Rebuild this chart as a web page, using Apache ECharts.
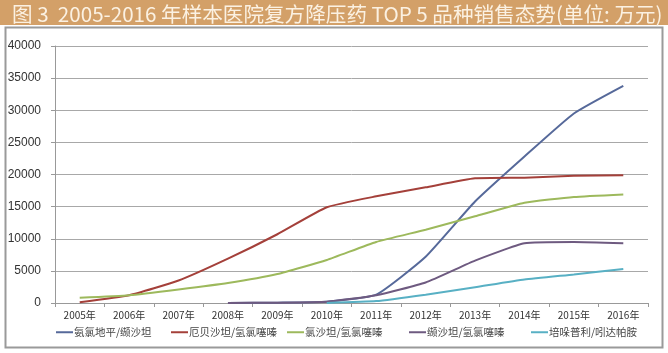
<!DOCTYPE html>
<html><head><meta charset="utf-8">
<script src="https://cdn.jsdelivr.net/npm/echarts@6/dist/echarts.min.js"></script>
<style>html,body{margin:0;padding:0;background:#fff}#c{width:668px;height:353px}</style>
</head><body><div id="c"></div>
<script>
const titleText = '图 3  2005-2016 年样本医院复方降压药 TOP 5 品种销售态势(单位: 万元)';
const years = ['2005年','2006年','2007年','2008年','2009年','2010年','2011年','2012年','2013年','2014年','2015年','2016年'];
const seriesNames = ['氨氯地平/缬沙坦','厄贝沙坦/氢氯噻嗪','氯沙坦/氢氯噻嗪','缬沙坦/氢氯噻嗪','培哚普利/吲达帕胺'];
const amlodipineValsartan = [null,null,null,0,50,200,1300,7200,15800,22800,29500,33800];
const irbesartanHctz = [100,1200,3500,6900,10700,14900,16600,18000,19400,19500,19800,19900];
const losartanHctz = [800,1200,2100,3100,4500,6700,9500,11400,13500,15600,16500,16900];
const valsartanHctz = [null,null,null,0,50,200,1200,3200,6600,9300,9500,9300];
const perindoprilIndapamide = [null,null,null,null,null,0,300,1300,2450,3650,4450,5300];
const yTicks = [0,5000,10000,15000,20000,25000,30000,35000,40000];

const colors = ['#56699A','#A4403A','#9DB95C','#6E5A80','#58B0C4'];
const dataArr = [amlodipineValsartan, irbesartanHctz, losartanHctz, valsartanHctz, perindoprilIndapamide];
const legendLefts = [56,171,287,409,531];
const cjk = '"Noto Sans CJK SC", sans-serif';

const chart = echarts.init(document.getElementById('c'));
chart.setOption({
  animation:false,
  color: colors,
  graphic:[
    {type:'rect', shape:{x:0,y:0,width:668,height:25}, style:{fill:'#D3A068'}, z:-1},
    {type:'rect', shape:{x:5.5,y:27.5,width:657,height:320}, style:{fill:'#fff',stroke:'#9a9a9a',lineWidth:2}, z:-1}
  ],
  title:{text:titleText,left:7,top:-1,textStyle:{color:'#FBF1E2',fontSize:20.6,fontWeight:'normal',fontFamily:cjk}},
  grid:{left:55,right:20,top:46,bottom:50,containLabel:false},
  legend: seriesNames.map((n,i)=>({
    data:[n], top:327, left:legendLefts[i], itemWidth:17, itemHeight:2, icon:'rect', padding:0,
    textStyle:{fontSize:10.5,color:'#444',fontFamily:cjk,padding:[0,0,0,-4]}
  })),
  xAxis:{
    type:'category', data: years, boundaryGap:true,
    axisLine:{lineStyle:{color:'#999',width:1}},
    axisTick:{show:true,alignWithLabel:false,length:4,lineStyle:{color:'#999'}},
    axisLabel:{color:'#333',fontSize:10,margin:7,fontFamily:cjk}
  },
  yAxis:{
    type:'value', min:0, max:40000, interval:5000,
    axisLine:{show:true,lineStyle:{color:'#999'}},
    axisTick:{show:true,length:4,lineStyle:{color:'#999'}},
    splitLine:{lineStyle:{color:'#a8a8a8',width:1}},
    axisLabel:{color:'#333',fontSize:12,margin:14,fontFamily:'"Liberation Sans", sans-serif',formatter:v=>String(v)}
  },
  series: seriesNames.map((n,i)=>({
    name:n, type:'line', data:dataArr[i], showSymbol:false, symbol:'none',
    lineStyle:{width:2,color:colors[i]}, smooth:0.15, connectNulls:false
  }))
});
</script></body></html>
